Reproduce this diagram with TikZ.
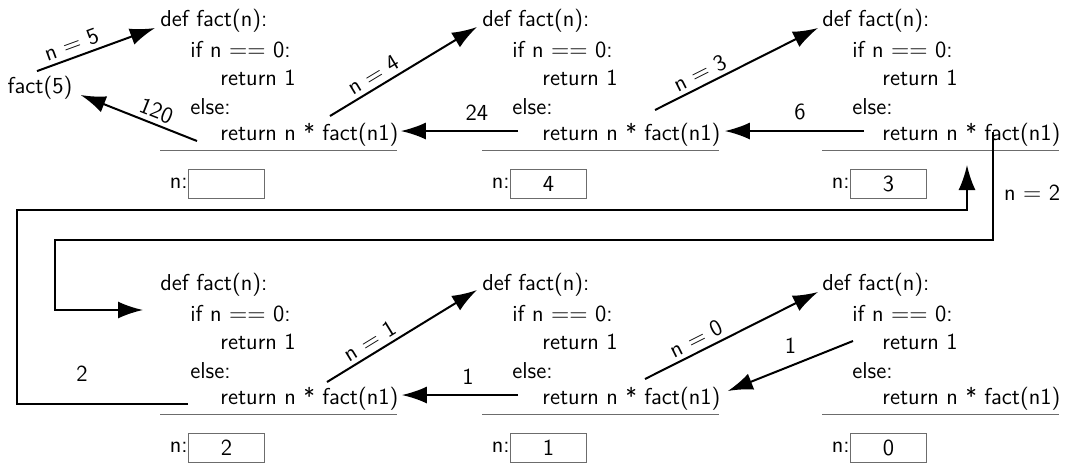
\documentclass[tikz,border=0pt]{standalone}
\usetikzlibrary{arrows.meta,calc}
\newcommand{\codefont}{\fontsize{11.5}{13.5}\selectfont\sffamily}
\tikzset{
  code/.style={anchor=west, inner sep=0pt, font=\codefont},
  lab/.style={inner sep=2pt, font=\codefont},
  conn/.style={line width=1pt, -{Latex[length=12.5pt,width=8.5pt]}},
  rule/.style={draw=gray!85!black, line width=0.75pt},
  valbox/.style={draw=gray!85!black, line width=0.5pt, anchor=west, minimum width=38pt, minimum height=14.5pt, inner sep=0pt, font=\codefont},
}
\newcommand{\factframe}[4]{%
  \node[code] (#1def) at (#2,#3) {def fact(n):};
  \node[code] (#1if) at (#2+30,#3+28.5) {if n $==$ 0:};
  \node[code] (#1ra) at (#2+60,#3+57) {return 1};
  \node[code] (#1else) at (#2+30,#3+85.5) {else:};
  \node[code] (#1ret) at (#2+60,#3+114) {return n * fact(n1)};
  \draw[rule] (#2,#3+129.5) -- ++(237,0);
  \node[valbox] (#1val) at (#2+28,#3+162.5) {#4};
  \node[code, anchor=east] (#1nl) at (#1val.west) {n:};
}
\begin{document}
\begin{tikzpicture}[x=0.5pt,y=-0.5pt]
\useasboundingbox (0,0) rectangle (1065,463);
% frames
\factframe{fa}{160}{21}{}
\factframe{fb}{482}{21}{4}
\factframe{fc}{822}{21}{3}
\factframe{fd}{160}{285}{2}
\factframe{fe}{482}{285}{1}
\factframe{ff}{822}{285}{0}
\node[code, anchor=center] (fact5) at (40,88) {fact(5)};
% calls
\draw[conn] ($(fact5.north)+(-3,-5)$) -- node[lab, sloped, above, pos=0.33] {n $=$ 5} ($(fadef.west)+(-5,7)$);
\draw[conn] ($(faret.west)+(110,-19)$) -- node[lab, sloped, above, pos=0.34] {n $=$ 4} ($(fbdef.west)+(-5,6)$);
\draw[conn] ($(fbret.west)+(113,-25)$) -- node[lab, sloped, above, pos=0.31] {n $=$ 3} ($(fcdef.west)+(-4,7)$);
\draw[conn] ($(fdret.west)+(107,-17)$) -- node[lab, sloped, above, pos=0.33] {n $=$ 1} ($(fedef.west)+(-5,5)$);
\draw[conn] ($(feret.west)+(103,-20)$) -- node[lab, sloped, above, pos=0.33] {n $=$ 0} ($(ffdef.west)+(-4,7)$);
% returns
\draw[conn] ($(faret.west)+(-23,6)$) -- node[lab, sloped, above, pos=0.39] {120} ($(fact5.east)+(8,7)$);
\draw[conn] ($(fbret.west)+(-24,-4)$) -- node[lab, above=3pt, pos=0.35] {24} ($(faret.east)+(2,-4)$);
\draw[conn] ($(fcret.west)+(-18,-4)$) -- node[lab, above=3pt, pos=0.46] {6} ($(fbret.east)+(4,-4)$);
\draw[conn] ($(feret.west)+(-24,-4)$) -- node[lab, above=3pt, pos=0.43] {1} ($(fdret.east)+(3,-4)$);
\draw[conn] ($(ffra.west)+(-29,-1)$) -- node[lab, above=4pt, midway] {1} ($(feret.east)+(7,-8)$);
% n = 2 call across rows
\coordinate (callA) at (993,132);
\coordinate (inA) at (143,310);
\draw[conn] (callA) |- node[lab, right=3pt, pos=0.28] {n $=$ 2} (55,240) |- (inA);
% return 2 across rows
\coordinate (retB) at (967,165);
\draw[conn] ($(fdret.west)+(-32,5)$) -| node[lab, above=9pt, pos=0.31] {2} (17,210) -| (retB);
\end{tikzpicture}
\end{document}
